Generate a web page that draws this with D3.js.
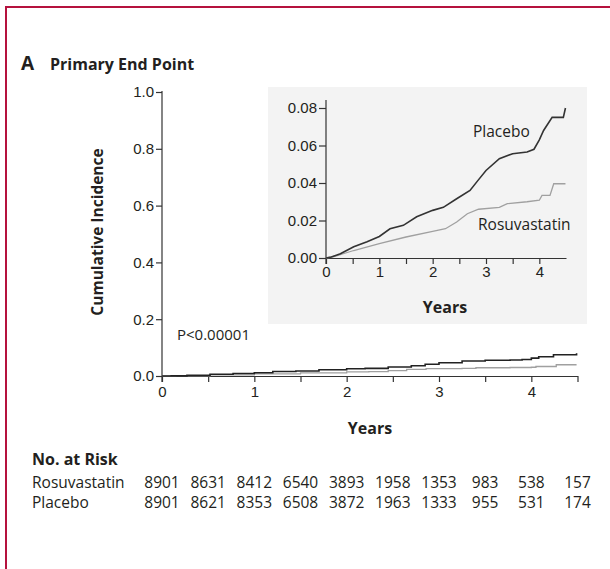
<!DOCTYPE html>
<html>
<head>
<meta charset="utf-8">
<script src="https://cdn.jsdelivr.net/npm/d3@7"></script>
<style>
  body { margin: 0; background: #fff; }
  svg { display: block; font-family: "Open Sans", sans-serif; }
  text { fill: #231f20; }
</style>
</head>
<body>
<div id="container"></div>
<script>
// data
var placeboT = [0, 0.1, 0.27, 0.52, 0.77, 1.0, 1.2, 1.45, 1.7, 2.0, 2.2, 2.45, 2.7, 2.85, 3.0, 3.25, 3.5, 3.77, 3.9, 4.0, 4.08, 4.24, 4.45, 4.49];
var placeboV = [0, 0.0005, 0.0023, 0.006, 0.0087, 0.0115, 0.0156, 0.0174, 0.022, 0.0254, 0.027, 0.0316, 0.036, 0.0414, 0.0467, 0.053, 0.0556, 0.0565, 0.058, 0.063, 0.068, 0.075, 0.075, 0.08];
var rosuT = [0, 0.15, 0.52, 1.0, 1.5, 2.0, 2.24, 2.45, 2.65, 2.86, 3.25, 3.4, 3.77, 4.0, 4.05, 4.2, 4.27, 4.49];
var rosuV = [0, 0.0008, 0.004, 0.0077, 0.0112, 0.0142, 0.0156, 0.0192, 0.0236, 0.026, 0.027, 0.029, 0.03, 0.0308, 0.0334, 0.0334, 0.0396, 0.0396];

var riskTimes = [0, 0.5, 1, 1.5, 2, 2.5, 3, 3.5, 4, 4.5];
var rosuRisk = [8901, 8631, 8412, 6540, 3893, 1958, 1353, 983, 538, 157];
var placeboRisk = [8901, 8621, 8353, 6508, 3872, 1963, 1333, 955, 531, 174];

var mainYTicks = [0, 0.2, 0.4, 0.6, 0.8, 1.0];
var insetYTicks = [0, 0.02, 0.04, 0.06, 0.08];
var xLabelTicks = [0, 1, 2, 3, 4];
var halfYearTicks = [0, 0.5, 1, 1.5, 2, 2.5, 3, 3.5, 4, 4.5];
var insetXTicks = [0, 0.5, 1, 1.5, 2, 2.5, 3, 3.5, 4];

var w = 610;
var h = 569;
var axisColor = "#333";

var svg = d3.select("#container").append("svg").attr("width", w).attr("height", h);

// red frame (left and top only)
svg.append("line").attr("x1", 6).attr("x2", 6).attr("y1", 6).attr("y2", h)
  .attr("stroke", "#b5123e").attr("stroke-width", 2);
svg.append("line").attr("x1", 5).attr("x2", w).attr("y1", 7).attr("y2", 7)
  .attr("stroke", "#b5123e").attr("stroke-width", 2);

// title
svg.append("text").attr("x", 21).attr("y", 70).style("font-weight", "bold").style("font-size", "19px").text("A");
svg.append("text").attr("x", 50).attr("y", 70).style("font-weight", "bold").style("font-size", "16px").text("Primary End Point");

// scales for main panel
var x = d3.scaleLinear().domain([0, 4.5]).range([162, 577.5]);
var y = d3.scaleLinear().domain([0, 1]).range([376, 92]);

// inset background
var ix = d3.scaleLinear().domain([0, 4.5]).range([326, 566]);
var iy = d3.scaleLinear().domain([0, 0.08]).range([258, 108]);
svg.append("rect").attr("x", 268).attr("y", 87).attr("width", 319).attr("height", 237).attr("fill", "#f3f3f3");

function styleAxis(g) {
  g.select(".domain").attr("stroke", axisColor).attr("stroke-width", 1.2);
  g.selectAll(".tick line").attr("stroke", axisColor).attr("stroke-width", 1.2);
  g.selectAll(".tick text").style("font-size", "15px").attr("fill", "#231f20");
}

// main y axis
var yAxis = svg.append("g").attr("transform", "translate(162,0)")
  .call(d3.axisLeft(y).tickValues(mainYTicks).tickFormat(d3.format(".1f")).tickSize(6).tickSizeOuter(0).tickPadding(2));
styleAxis(yAxis);
yAxis.select(".domain").remove();
svg.append("line").attr("x1", 162).attr("x2", 162).attr("y1", 91).attr("y2", 382)
  .attr("stroke", axisColor).attr("stroke-width", 1.2);

// main x axis: half-year ticks, labels at whole years
var xAxis = svg.append("g").attr("transform", "translate(0,376)")
  .call(d3.axisBottom(x).tickValues(halfYearTicks)
    .tickFormat(function (d) { return xLabelTicks.indexOf(d) >= 0 ? d : ""; })
    .tickSize(6).tickSizeOuter(0).tickPadding(4));
styleAxis(xAxis);

// inset axes
var iyAxis = svg.append("g").attr("transform", "translate(326,0)")
  .call(d3.axisLeft(iy).tickValues(insetYTicks).tickFormat(d3.format(".2f")).tickSize(7).tickSizeOuter(0).tickPadding(2));
styleAxis(iyAxis);
iyAxis.select(".domain").remove();
svg.append("line").attr("x1", 326).attr("x2", 326).attr("y1", 100).attr("y2", 264)
  .attr("stroke", axisColor).attr("stroke-width", 1.2);

var ixAxis = svg.append("g").attr("transform", "translate(0,258)")
  .call(d3.axisBottom(ix).tickValues(insetXTicks)
    .tickFormat(function (d) { return xLabelTicks.indexOf(d) >= 0 ? d : ""; })
    .tickSize(6).tickSizeOuter(0).tickPadding(2));
styleAxis(ixAxis);

// curves
var placebo = placeboT.map(function (t, i) { return [t, placeboV[i]]; });
var rosu = rosuT.map(function (t, i) { return [t, rosuV[i]]; });

var mainLine = d3.line().x(function (d) { return x(d[0]); }).y(function (d) { return y(d[1]); }).curve(d3.curveStepAfter);
var insetLine = d3.line().x(function (d) { return ix(d[0]); }).y(function (d) { return iy(d[1]); });

svg.append("path").datum(rosu).attr("d", mainLine).attr("fill", "none").attr("stroke", "#a0a0a0").attr("stroke-width", 1.3);
svg.append("path").datum(placebo).attr("d", mainLine).attr("fill", "none").attr("stroke", "#222").attr("stroke-width", 1.6);
svg.append("path").datum(rosu).attr("d", insetLine).attr("fill", "none").attr("stroke", "#a0a0a0").attr("stroke-width", 1.3);
svg.append("path").datum(placebo).attr("d", insetLine).attr("fill", "none").attr("stroke", "#333").attr("stroke-width", 1.6);

// labels
svg.append("text").attr("x", 473).attr("y", 137).style("font-size", "15.5px").text("Placebo");
svg.append("text").attr("x", 478).attr("y", 230).style("font-size", "15.5px").text("Rosuvastatin");
svg.append("text").attr("x", 445).attr("y", 313).attr("text-anchor", "middle").style("font-size", "16px").style("font-weight", "bold").text("Years");
svg.append("text").attr("x", 370).attr("y", 434).attr("text-anchor", "middle").style("font-size", "16px").style("font-weight", "bold").text("Years");
svg.append("text").attr("transform", "translate(103,232) rotate(-90)").attr("text-anchor", "middle")
  .style("font-size", "15.5px").style("font-weight", "bold").text("Cumulative Incidence");
svg.append("text").attr("x", 177).attr("y", 340).style("font-size", "15px").text("P<0.00001");

// number at risk table
svg.append("text").attr("x", 32).attr("y", 465).style("font-size", "16px").style("font-weight", "bold").text("No. at Risk");
svg.append("text").attr("x", 32).attr("y", 488).style("font-size", "15.5px").text("Rosuvastatin");
svg.append("text").attr("x", 32).attr("y", 508).style("font-size", "15.5px").text("Placebo");

svg.selectAll(".riskR").data(rosuRisk).enter().append("text")
  .attr("x", function (d, i) { return x(riskTimes[i]); })
  .attr("y", 488).attr("text-anchor", "middle").style("font-size", "15.5px")
  .text(function (d) { return d; });
svg.selectAll(".riskP").data(placeboRisk).enter().append("text")
  .attr("x", function (d, i) { return x(riskTimes[i]); })
  .attr("y", 508).attr("text-anchor", "middle").style("font-size", "15.5px")
  .text(function (d) { return d; });
</script>
</body>
</html>
